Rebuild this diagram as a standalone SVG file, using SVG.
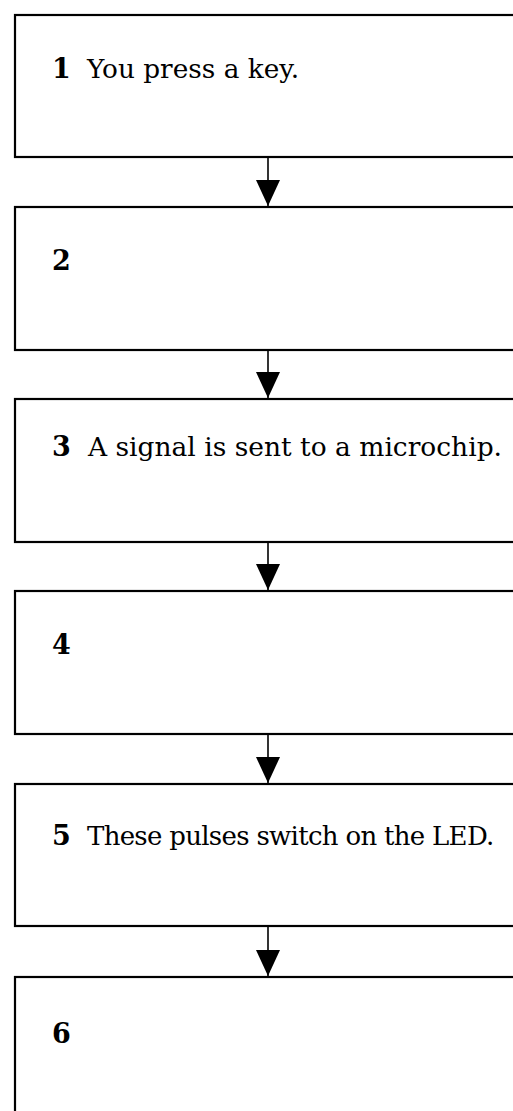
<svg xmlns="http://www.w3.org/2000/svg" width="513" height="1111" viewBox="0 0 513 1111">
  <style>
    .box { fill: #fff; stroke: #000; stroke-width: 2.2; }
    .num { font-family: "DejaVu Serif", "Liberation Serif", serif; font-weight: bold; font-size: 27px; fill: #000; }
    .lbl { font-family: "DejaVu Serif", "Liberation Serif", serif; font-size: 26px; fill: #000; }
    .link { stroke: #000; stroke-width: 1.6; fill: none; }
  </style>
  <defs>
    <!-- solid triangular head, drawn along +x so orient="auto" points it down the line -->
    <marker id="head" markerUnits="userSpaceOnUse" markerWidth="27" markerHeight="24" refX="26" refY="12" orient="auto" viewBox="0 0 27 24">
      <path d="M0,0 L26,12 L0,24 Z" fill="#000"/>
    </marker>
  </defs>
  <rect width="513" height="1111" fill="#fff"/>

  <!-- steps; each box runs off the right edge -->
  <g id="step1">
    <rect class="box" x="15" y="15" width="520" height="142"/>
    <text class="num" x="52" y="78">1</text>
    <text class="lbl" x="87" y="78" textLength="212" lengthAdjust="spacingAndGlyphs">You press a key.</text>
  </g>
  <g id="step2">
    <rect class="box" x="15" y="207" width="520" height="143"/>
    <text class="num" x="52" y="270">2</text>
  </g>
  <g id="step3">
    <rect class="box" x="15" y="399" width="520" height="143"/>
    <text class="num" x="52" y="456">3</text>
    <text class="lbl" x="88" y="456" textLength="414" lengthAdjust="spacingAndGlyphs">A signal is sent to a microchip.</text>
  </g>
  <g id="step4">
    <rect class="box" x="15" y="591" width="520" height="143"/>
    <text class="num" x="52" y="654">4</text>
  </g>
  <g id="step5">
    <rect class="box" x="15" y="784" width="520" height="142"/>
    <text class="num" x="52" y="845">5</text>
    <text class="lbl" x="87" y="845" font-size="24" letter-spacing="-0.7">These pulses switch on the LED.</text>
  </g>
  <g id="step6">
    <rect class="box" x="15" y="977" width="520" height="160"/>
    <text class="num" x="52" y="1043">6</text>
  </g>

  <!-- downward connectors between consecutive steps -->
  <g id="connectors">
    <line class="link" x1="268" y1="157" x2="268" y2="206" marker-end="url(#head)"/>
    <line class="link" x1="268" y1="350" x2="268" y2="398" marker-end="url(#head)"/>
    <line class="link" x1="268" y1="542" x2="268" y2="590" marker-end="url(#head)"/>
    <line class="link" x1="268" y1="734" x2="268" y2="783" marker-end="url(#head)"/>
    <line class="link" x1="268" y1="926" x2="268" y2="976" marker-end="url(#head)"/>
  </g>
</svg>
